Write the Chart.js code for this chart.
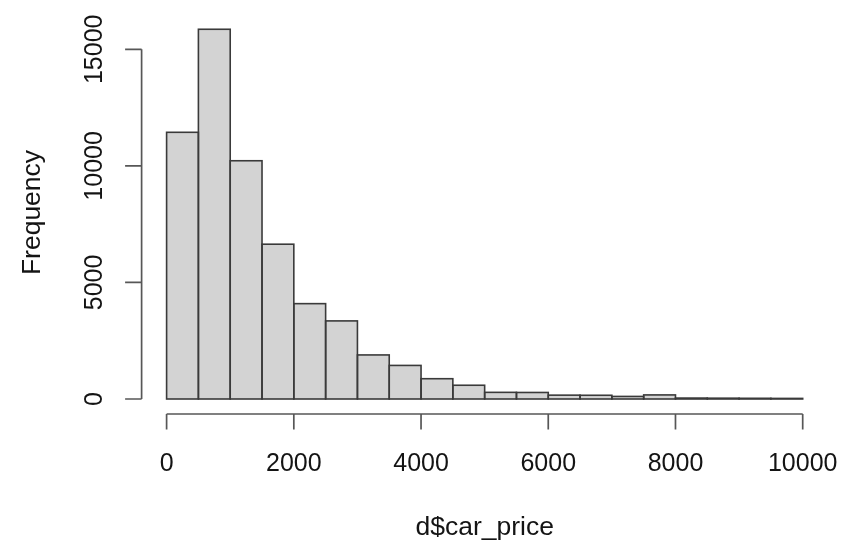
<!DOCTYPE html>
<html>
<head>
<meta charset="utf-8">
<script src="https://cdn.jsdelivr.net/npm/chart.js@4.4.1/dist/chart.umd.min.js"></script>
<style>
html, body { margin: 0; padding: 0; background: #ffffff; }
canvas { display: block; }
</style>
</head>
<body>
<canvas id="c" width="841" height="541"></canvas>
<script>
// ---- data ----
const binStarts = [0, 500, 1000, 1500, 2000, 2500, 3000, 3500, 4000, 4500,
                   5000, 5500, 6000, 6500, 7000, 7500, 8000, 8500, 9000, 9500];
const binWidth = 500;
const counts = [11440, 15860, 10220, 6640, 4090, 3350, 1890, 1440, 870, 590,
                285, 280, 165, 160, 110, 175, 40, 35, 30, 25];
const xTickValues = [0, 2000, 4000, 6000, 8000, 10000];
const yTickValues = [0, 5000, 10000, 15000];
const xTitle = 'd$car_price';
const yTitle = 'Frequency';

const FONT = '"Liberation Sans", Arial, Helvetica, sans-serif';

// R-style bar outlines (line centred on the bar edges), from the bars Chart.js laid out
const rOutlines = {
  id: 'rOutlines',
  afterDatasetsDraw(chart) {
    const ctx = chart.ctx;
    ctx.save();
    ctx.strokeStyle = '#3a3a3a';
    ctx.lineWidth = 1.6;
    ctx.lineJoin = 'miter';
    chart.getDatasetMeta(0).data.forEach(el => {
      const p = el.getProps(['x', 'y', 'base', 'width'], true);
      ctx.strokeRect(p.x - p.width / 2, p.y, p.width, p.base - p.y);
    });
    ctx.restore();
  }
};

const rAxes = {
  id: 'rAxes',
  afterDraw(chart) {
    const ctx = chart.ctx, xs = chart.scales.x, ys = chart.scales.y, ca = chart.chartArea;
    ctx.save();
    ctx.strokeStyle = '#575757';
    ctx.lineWidth = 1.7;
    ctx.lineCap = 'butt';
    // x axis (R style, offset below plot)
    const xa = ca.bottom + 15;
    const tl = 15.5;
    const xFirst = xs.getPixelForValue(xTickValues[0]);
    const xLast = xs.getPixelForValue(xTickValues[xTickValues.length - 1]);
    ctx.beginPath();
    ctx.moveTo(xFirst, xa); ctx.lineTo(xLast, xa);
    xTickValues.forEach(v => { const p = xs.getPixelForValue(v); ctx.moveTo(p, xa); ctx.lineTo(p, xa + tl); });
    ctx.stroke();
    // y axis (offset left of plot)
    const yaX = ca.left - 25;
    const yFirst = ys.getPixelForValue(yTickValues[0]);
    const yLast = ys.getPixelForValue(yTickValues[yTickValues.length - 1]);
    ctx.beginPath();
    ctx.moveTo(yaX, yFirst); ctx.lineTo(yaX, yLast);
    yTickValues.forEach(v => { const p = ys.getPixelForValue(v); ctx.moveTo(yaX, p); ctx.lineTo(yaX - 16.5, p); });
    ctx.stroke();

    // tick labels
    ctx.fillStyle = '#141414';
    ctx.font = '25px ' + FONT;
    ctx.textAlign = 'center';
    ctx.textBaseline = 'alphabetic';
    xTickValues.forEach(v => ctx.fillText(String(v), xs.getPixelForValue(v), xa + 57));
    yTickValues.forEach(v => {
      ctx.save();
      ctx.translate(yaX - 39.5, ys.getPixelForValue(v));
      ctx.rotate(-Math.PI / 2);
      ctx.fillText(String(v), 0, 0);
      ctx.restore();
    });

    // axis titles
    ctx.font = '26.5px ' + FONT;
    ctx.fillText(xTitle, (ca.left + ca.right) / 2, 535);
    ctx.save();
    ctx.translate(40, 212.5);
    ctx.rotate(-Math.PI / 2);
    ctx.fillText(yTitle, 0, 0);
    ctx.restore();
    ctx.restore();
  }
};

new Chart(document.getElementById('c'), {
  type: 'bar',
  data: {
    datasets: [{
      data: binStarts.map((s, i) => ({ x: s + binWidth / 2, y: counts[i] })),
      backgroundColor: '#d3d3d3',
      borderWidth: 0,
      inflateAmount: 0,
      barPercentage: 1,
      categoryPercentage: 1
    }]
  },
  options: {
    responsive: false,
    animation: false,
    devicePixelRatio: 1,
    layout: { padding: { left: 166.6, right: 38.3, top: 26, bottom: 142 } },
    plugins: { legend: { display: false }, tooltip: { enabled: false } },
    scales: {
      x: {
        type: 'linear', min: 0, max: 10000, display: false, offset: false,
        afterBuildTicks: s => { s.ticks = xTickValues.map(v => ({ value: v })); }
      },
      y: {
        type: 'linear', min: 0, max: 16000, display: false,
        afterBuildTicks: s => { s.ticks = yTickValues.map(v => ({ value: v })); }
      }
    }
  },
  plugins: [rOutlines, rAxes]
});
</script>
</body>
</html>
